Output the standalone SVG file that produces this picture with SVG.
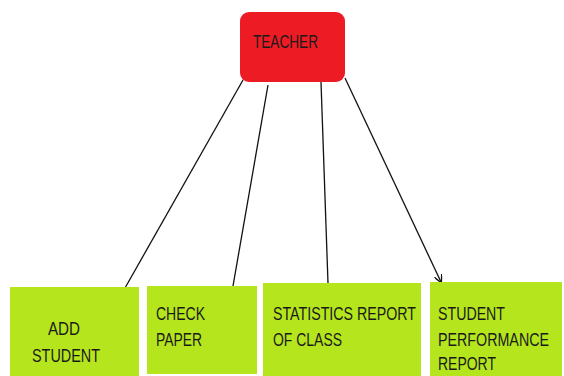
<svg xmlns="http://www.w3.org/2000/svg" width="564" height="376" viewBox="0 0 564 376">
<defs>
<style>
.lbl{font-family:"Liberation Sans",Arial,sans-serif;font-size:18.5px;fill:#1a1a1a}
.g{fill:#B5E61D}
.c{stroke:#111;stroke-width:1.3;fill:none}
</style>
<marker id="ah" markerWidth="8" markerHeight="8" refX="7" refY="4" orient="auto" markerUnits="userSpaceOnUse">
<path d="M0,0 L8,4 L0,8" fill="none" stroke="#111" stroke-width="1.3"/>
</marker>
</defs>
<rect width="564" height="376" fill="#fff"/>
<g id="connectors">
<line class="c" x1="243" y1="80" x2="125" y2="288"/>
<line class="c" x1="268" y1="85" x2="233" y2="286"/>
<line class="c" x1="321" y1="82" x2="328" y2="283"/>
<line class="c" x1="345" y1="78" x2="441" y2="282" marker-end="url(#ah)"/>
</g>
<g id="teacher">
<rect x="240" y="12" width="105" height="70" rx="9" fill="#ED1C24"/>
<text class="lbl" transform="translate(253,48) scale(0.76,1)" textLength="85.5" lengthAdjust="spacingAndGlyphs">TEACHER</text>
</g>
<g id="add-student">
<rect class="g" x="10" y="287" width="129" height="89"/>
<text class="lbl" transform="translate(48,335) scale(0.76,1)" textLength="42.1" lengthAdjust="spacingAndGlyphs">ADD</text>
<text class="lbl" transform="translate(32,362) scale(0.76,1)" textLength="89.5" lengthAdjust="spacingAndGlyphs">STUDENT</text>
</g>
<g id="check-paper">
<rect class="g" x="147" y="286" width="110" height="88"/>
<text class="lbl" transform="translate(156,320) scale(0.76,1)" textLength="64.5" lengthAdjust="spacingAndGlyphs">CHECK</text>
<text class="lbl" transform="translate(156,346) scale(0.76,1)" textLength="60.5" lengthAdjust="spacingAndGlyphs">PAPER</text>
</g>
<g id="statistics-report">
<rect class="g" x="263" y="283" width="158" height="93"/>
<text class="lbl" transform="translate(273,320) scale(0.76,1)" textLength="188.2" lengthAdjust="spacingAndGlyphs">STATISTICS REPORT</text>
<text class="lbl" transform="translate(273,346) scale(0.76,1)" textLength="90.8" lengthAdjust="spacingAndGlyphs">OF CLASS</text>
</g>
<g id="student-performance">
<rect class="g" x="430" y="282" width="132" height="94"/>
<text class="lbl" transform="translate(438,320) scale(0.76,1)" textLength="88.2" lengthAdjust="spacingAndGlyphs">STUDENT</text>
<text class="lbl" transform="translate(438,346) scale(0.76,1)" textLength="146.1" lengthAdjust="spacingAndGlyphs">PERFORMANCE</text>
<text class="lbl" transform="translate(438,370) scale(0.76,1)" textLength="76.3" lengthAdjust="spacingAndGlyphs">REPORT</text>
</g>
</svg>
